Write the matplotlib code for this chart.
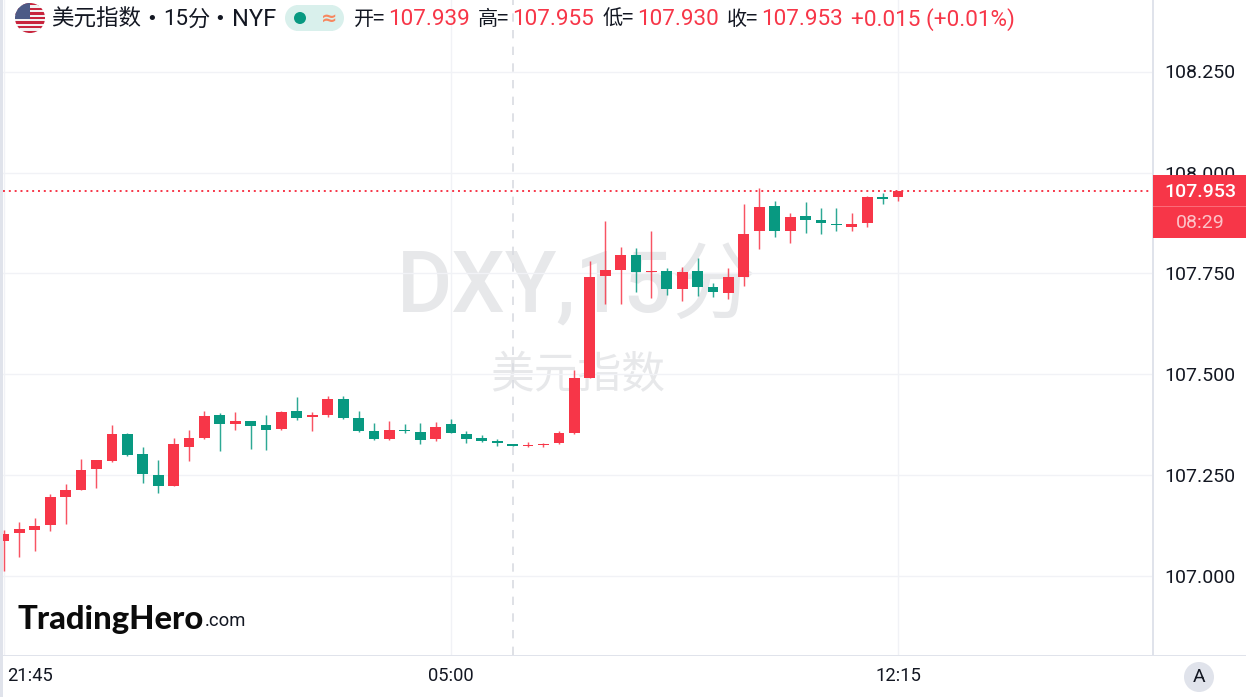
import matplotlib
matplotlib.use("Agg")
import matplotlib.pyplot as plt
from matplotlib.patches import Rectangle, Circle
from matplotlib.transforms import ScaledTranslation

opens = [107.089,107.107,107.115,107.127,107.196,107.214,107.266,107.287,107.353,107.303,107.251,107.224,107.320,107.343,107.399,107.377,107.386,107.374,107.364,107.410,
         107.394,107.399,107.439,107.392,107.361,107.340,107.363,107.358,107.340,107.377,107.353,107.342,107.335,107.327,107.324,107.326,107.330,107.356,107.491,107.743,
         107.759,107.796,107.753,107.755,107.711,107.755,107.717,107.702,107.742,107.856,107.917,107.855,107.892,107.882,107.873,107.864,107.875,107.939,107.939]
highs = [107.115,107.135,107.145,107.203,107.230,107.290,107.288,107.376,107.355,107.321,107.288,107.342,107.363,107.410,107.404,107.406,107.386,107.400,107.410,107.444,
         107.406,107.448,107.448,107.410,107.379,107.384,107.377,107.381,107.382,107.389,107.359,107.351,107.341,107.329,107.333,107.330,107.359,107.510,107.782,107.879,
         107.816,107.812,107.854,107.763,107.765,107.788,107.726,107.764,107.922,107.962,107.930,107.899,107.928,107.911,107.911,107.899,107.942,107.950,107.955]
lows = [107.014,107.048,107.063,107.113,107.130,107.214,107.220,107.284,107.298,107.232,107.207,107.224,107.286,107.340,107.311,107.363,107.316,107.314,107.362,107.387,
        107.359,107.396,107.391,107.357,107.339,107.339,107.355,107.329,107.336,107.354,107.331,107.333,107.324,107.323,107.321,107.321,107.327,107.352,107.491,107.674,
        107.674,107.705,107.689,107.696,107.683,107.694,107.691,107.688,107.719,107.811,107.841,107.826,107.850,107.849,107.854,107.856,107.866,107.921,107.930]
closes = [107.105,107.117,107.125,107.196,107.214,107.264,107.288,107.353,107.301,107.253,107.223,107.327,107.344,107.397,107.378,107.384,107.372,107.362,107.408,107.393,
          107.399,107.439,107.393,107.360,107.341,107.362,107.359,107.339,107.369,107.354,107.341,107.335,107.330,107.324,107.326,107.329,107.354,107.491,107.742,107.759,
          107.797,107.754,107.755,107.712,107.754,107.717,107.704,107.741,107.848,107.915,107.855,107.891,107.882,107.874,107.870,107.873,107.939,107.935,107.953]
price_ticks = [107.0, 107.25, 107.5, 107.75, 108.0, 108.25]
price_labels = ["107.000", "107.250", "107.500", "107.750", "108.000", "108.250"]
time_ticks = [0, 29, 58]
time_labels = ["21:45", "05:00", "12:15"]
last_price = 107.953
cross_index = 33

RED = "#f73648"
GREEN = "#089981"
W, H = 1246, 697
CJK = ["Noto Sans CJK SC", "Roboto"]

fig = plt.figure(figsize=(W / 100, H / 100), dpi=100, facecolor="white")

# main price pane: x 3..1153 px, y 0..655 px
ax = fig.add_axes([3 / W, (H - 655) / H, 1150 / W, 655 / H], facecolor="white")
ax.set_xlim((3 - 4) / 15.414, (1153 - 4) / 15.414)
ax.set_ylim(107 - 78.5 / 404, 107 + 576.5 / 404)
for s in ax.spines.values():
    s.set_visible(False)
ax.yaxis.tick_right()
ax.set_yticks(price_ticks)
ax.set_yticklabels(price_labels, family="Roboto", fontsize=14, color="#131722")
ax.set_xticks(time_ticks)
ax.set_xticklabels(time_labels, family="Roboto", fontsize=13.2, color="#131722")
ax.tick_params(axis="y", length=0, pad=8.3)
ax.tick_params(axis="x", length=0, pad=8.5)
ax.grid(True, color="#f1f2f6", lw=1.0, zorder=0)
ax.set_axisbelow(True)
first = ax.get_xticklabels()[0]
first.set_ha("left")
first.set_transform(first.get_transform() + ScaledTranslation(3 / 100, 0, fig.dpi_scale_trans))

# watermarks
wm = fig.add_axes([0, 0, 1, 1], facecolor="none", zorder=-1)
wm.set_xlim(0, W); wm.set_ylim(H, 0); wm.axis("off")
ax.set_zorder(1)
ax.patch.set_alpha(0)
wm.text(577, 288, "DXY,15分", family=["Roboto", "Noto Sans CJK SC"], weight="medium", fontsize=61, color="#e7e8ea", ha="center", va="center")
wm.text(578, 375, "美元指数", family=CJK, weight="medium", fontsize=31.5, color="#e7e8ea", ha="center", va="center")

x = list(range(len(opens)))
colors = [RED if c >= o else GREEN for o, c in zip(opens, closes)]
ax.vlines(x, lows, highs, colors=colors, lw=1.05, alpha=0.85, zorder=3)
ax.bar(x, [abs(c - o) for o, c in zip(opens, closes)], bottom=[min(o, c) for o, c in zip(opens, closes)],
       width=0.7, color=colors, zorder=4, linewidth=0)
ax.axvline(cross_index, color="#d9dbe1", lw=1.2, ls=(0, (5, 5)), zorder=2)
ax.axhline(last_price, color=RED, lw=1.4, ls=(0, (1.0, 2.0)), zorder=5)

# chrome overlay in pixel space
ov = fig.add_axes([0, 0, 1, 1], facecolor="none", zorder=5)
ov.set_xlim(0, W); ov.set_ylim(H, 0); ov.axis("off")
LINE = "#e0e3eb"
ov.add_patch(Rectangle((0, 0), 3, H, color=LINE, lw=0))
ov.add_patch(Rectangle((1152, 0), 2, 655, color=LINE, lw=0))
ov.add_patch(Rectangle((3, 654.5), W, 1.5, color=LINE, lw=0))

# price tag
ov.add_patch(Rectangle((1153, 175), 93, 63, color=RED, lw=0))
ov.add_patch(Rectangle((1153, 206), 93, 0.8, color="#fb6b78", lw=0))
ov.text(1200, 192, "107.953", family="Roboto", fontsize=14, color="white", weight="medium", ha="center", va="center")
ov.text(1200, 223, "08:29", family="Roboto", fontsize=14, color="#fcc3c8", ha="center", va="center")

# flag
clip = Circle((30, 18), 15, transform=ov.transData)
for i in range(13):
    r = Rectangle((15, 3 + i * 30 / 13), 30, 30 / 13 + 0.2, color="#c8243c" if i % 2 == 0 else "#f2f2f2", lw=0)
    ov.add_patch(r); r.set_clip_path(clip)
r = Rectangle((15, 3), 15, 16, color="#4c5a86", lw=0)
ov.add_patch(r); r.set_clip_path(clip)

# header
HY = 19.5
ov.text(51, HY, "美元指数", family=CJK, fontsize=16.2, color="#131722", ha="left", va="center")
ov.text(152, HY, "•", family="DejaVu Sans", fontsize=13, color="#131722", ha="center", va="center")
ov.text(163, HY, "15", family="Roboto", fontsize=16, color="#131722", ha="left", va="center")
ov.text(188, HY, "分", family=CJK, fontsize=16, color="#131722", ha="left", va="center")
ov.text(220, HY, "•", family="DejaVu Sans", fontsize=13, color="#131722", ha="center", va="center")
ov.text(232, HY, "NYF", family="Roboto", fontsize=17, color="#131722", ha="left", va="center")
ov.add_patch(Rectangle((296, 5), 37, 26, color="#d9f0ec", lw=0))
ov.add_patch(Circle((298, 18), 13, color="#d9f0ec", lw=0))
ov.add_patch(Circle((331, 18), 13, color="#d9f0ec", lw=0))
ov.add_patch(Circle((300, 18), 6, color=GREEN, lw=0))
ov.text(329, 18, "≈", family="DejaVu Sans", fontsize=14, weight="bold", color="#f7875f", ha="center", va="center")
for xp, lab in [(354, "开="), (478, "高="), (603, "低="), (727, "收=")]:
    ov.text(xp, HY, lab, family=CJK, fontsize=14.5, color="#131722", ha="left", va="center")
for xp, val in [(388, "107.939"), (512, "107.955"), (637, "107.930"), (761, "107.953"), (851, "+0.015 (+0.01%)")]:
    ov.text(xp, HY, val, family="Roboto", fontsize=16.2, color=RED, ha="left", va="center")

# logo
ov.text(18, 619, "TradingHero", family="Lato", weight="black", fontsize=23.6, color="#0b0b0b", ha="left", va="center")
ov.text(205, 621, ".com", family="Roboto", fontsize=13.2, color="#131722", ha="left", va="center")

# scale button
ov.add_patch(Circle((1199, 677), 15, color=LINE, lw=0))
ov.text(1199, 677, "A", family="Roboto", fontsize=14, color="#131722", ha="center", va="center")

fig.savefig("out.png", dpi=100)
